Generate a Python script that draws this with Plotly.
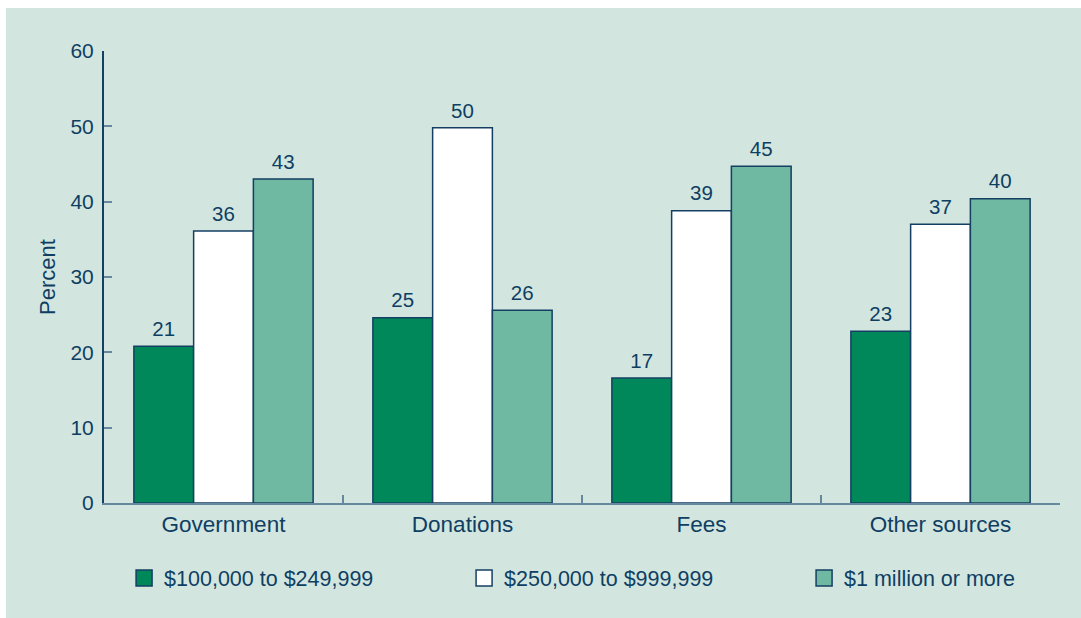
import plotly.graph_objects as go

categories = ["Government", "Donations", "Fees", "Other sources"]
series_names = ["$100,000 to $249,999", "$250,000 to $999,999", "$1 million or more"]

values_small = [20.8, 24.6, 16.6, 22.8]
values_mid = [36.1, 49.8, 38.8, 37.0]
values_large = [43.0, 25.6, 44.7, 40.4]

labels_small = [21, 25, 17, 23]
labels_mid = [36, 50, 39, 37]
labels_large = [43, 26, 45, 40]

colors = ["#00885a", "#ffffff", "#6fb8a1"]
legend_widths = [295, 295, 190]
navy = "#0f3e63"
outline = "#143f63"
axis_light = "#6689a0"
bg = "#d2e6df"
font_family = "Liberation Sans, Arial, sans-serif"

W, H = 1081, 618
ML, MR, MT, MB = 104, 21, 51, 115
pw, ph = W - ML - MR, H - MT - MB

fig = go.Figure()

for name, vals, labs, col, lw in zip(series_names,
                                     [values_small, values_mid, values_large],
                                     [labels_small, labels_mid, labels_large],
                                     colors, legend_widths):
    fig.add_trace(go.Bar(
        x=categories,
        y=vals,
        name=name,
        text=labs,
        # empty subscripts on both sides lift the label a few px off the bar
        texttemplate="<sub>\u00a0</sub>%{text}<sub>\u00a0</sub>",
        textposition="outside",
        constraintext="none",
        textfont=dict(size=20.5, color=navy, family=font_family),
        cliponaxis=False,
        marker=dict(color=col, line=dict(color=outline, width=1.5)),
        showlegend=False,
    ))
    # legend proxy so the key squares are a bit larger
    fig.add_trace(go.Scatter(
        x=[None], y=[None],
        mode="markers",
        name=name,
        legendwidth=lw,
        marker=dict(symbol="square", size=16, color=col,
                    line=dict(color=outline, width=1.5)),
    ))

# light green panel with a thin white edge on the top and left
fig.add_shape(
    type="rect", xref="paper", yref="paper", layer="below",
    x0=(6 - ML) / pw, x1=(W - ML) / pw,
    y0=-MB / ph, y1=(ph + MT - 8) / ph,
    fillcolor=bg, line=dict(width=0),
)

fig.update_layout(
    width=W,
    height=H,
    barmode="group",
    bargap=0.25,
    bargroupgap=0,
    paper_bgcolor="white",
    plot_bgcolor=bg,
    margin=dict(l=ML, r=MR, t=MT, b=MB),
    font=dict(family=font_family, color=navy, size=21),
    showlegend=True,
    legend=dict(
        orientation="h",
        x=0.021, xanchor="left",
        y=-0.166, yanchor="middle",
        font=dict(size=21.5, color=navy),
        bgcolor="rgba(0,0,0,0)",
        traceorder="normal",
    ),
)

fig.update_xaxes(
    type="category",
    range=[-0.5, 3.5],
    showline=True, linecolor=axis_light, linewidth=2,
    ticks="inside", tickson="boundaries", ticklen=8,
    tickcolor=axis_light, tickwidth=2,
    tickfont=dict(size=22.5, color=navy),
    ticklabelstandoff=0,
    showgrid=False, zeroline=False,
)
fig.update_yaxes(
    range=[0, 60],
    dtick=10,
    showline=True, linecolor=outline, linewidth=2,
    ticks="inside", ticklen=8, tickcolor=axis_light, tickwidth=2,
    tickfont=dict(size=21, color=navy),
    ticklabelstandoff=4,
    title=dict(text="Percent", font=dict(size=22, color=navy), standoff=9),
    showgrid=False, zeroline=False,
)

fig.write_html("out.html", config={"displayModeBar": False},
               post_script="document.body.style.margin = '0';")
